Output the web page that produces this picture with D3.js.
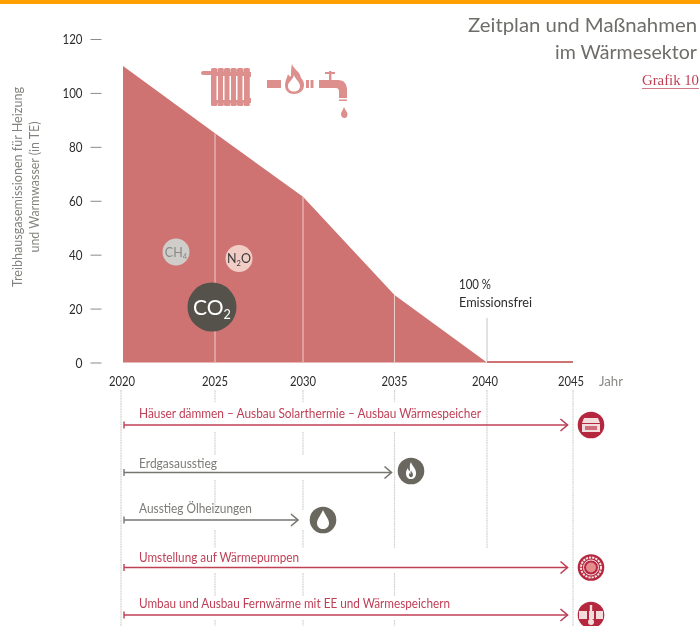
<!DOCTYPE html>
<html><head><meta charset="utf-8">
<script src="https://cdn.jsdelivr.net/npm/d3@7"></script>
<style>html,body{margin:0;padding:0;background:#fff}svg{display:block;filter:blur(.35px)}text{font-family:Lato,"Noto Sans",sans-serif}</style>
</head><body><svg id="c" width="700" height="626"></svg>
<script>
const years=[2020,2025,2030,2035,2040,2045];
const emissions=[110,85,61.5,25,0,0];
const yTicks=[0,20,40,60,80,100,120];
const yAxisLines=["Treibhausgasemissionen für Heizung","und Warmwasser (in TE)"];
const titleLines=["Zeitplan und Maßnahmen","im Wärmesektor"];
const measureLabels=["Häuser dämmen – Ausbau Solarthermie – Ausbau Wärmespeicher","Erdgasausstieg","Ausstieg Ölheizungen","Umstellung auf Wärmepumpen","Umbau und Ausbau Fernwärme mit EE und Wärmespeichern"];
const measureEnds=[2045,2035,2030,2045,2045];
const measureKinds=["red","grey","grey","red","red"];
const measureIcons=["house","flame","drop","pump","grid"];

const RED="#bf3f55",GREY="#77756f",AREA="#ce7371",DARK="#55524b";
const svg=d3.select("#c");
const x=d3.scaleLinear().domain(years).range([123,215,303,394.5,487,573]);
const y=d3.scaleLinear().domain([0,120]).range([362.5,39]);
const row=d3.scalePoint().domain(d3.range(measureLabels.length)).range([425,615]);
// the reference face is condensed: fit each label to its measured width
const fit=(sel,w)=>sel.attr("textLength",w).attr("lengthAdjust","spacingAndGlyphs");

svg.append("rect").attr("width",700).attr("height",4).attr("fill","#ff9f00");

// title
const titleW=[229,142];
svg.selectAll(".t").data(titleLines).join("text")
 .attr("x",(d,i)=>697-titleW[i]).attr("y",(d,i)=>32+i*27)
 .attr("font-size",19.5).attr("fill","#6e6d69").text(d=>d)
 .attr("textLength",(d,i)=>titleW[i]).attr("lengthAdjust","spacingAndGlyphs");
svg.append("text").attr("x",642).attr("y",85).attr("font-size",14.5)
 .attr("fill",RED).style("font-family","'Liberation Serif',serif").text("Grafik 10").call(fit,57);
svg.append("line").attr("x1",642).attr("x2",699).attr("y1",88.5).attr("y2",88.5).attr("stroke",RED).attr("stroke-width",.7);

// y axis
const yAxis=d3.axisLeft(y).tickValues(yTicks).tickSize(11).tickPadding(8).tickFormat(d3.format("d"));
const ya=svg.append("g").attr("transform","translate(101.5,0)").call(yAxis);
ya.select(".domain").remove();
ya.selectAll("line").attr("stroke","#8d8c88");
ya.selectAll("text").attr("font-size",13.5).attr("fill","#2c2c2c").attr("dy",".34em")
 .attr("textLength",d=>d>=100?20:d>0?13.5:7).attr("lengthAdjust","spacingAndGlyphs");
const yW=[200,131];
svg.selectAll(".yl").data(yAxisLines).join("text")
 .attr("transform",(d,i)=>`translate(${22+i*17},187) rotate(-90)`)
 .attr("text-anchor","middle").attr("font-size",13).attr("fill","#83827e").text(d=>d)
 .attr("textLength",(d,i)=>yW[i]).attr("lengthAdjust","spacingAndGlyphs");

// area
const pts=years.map((d,i)=>({y:d,v:emissions[i]}));
svg.append("path").datum(pts).attr("fill",AREA)
 .attr("d",d3.area().x(d=>x(d.y)).y0(y(0)).y1(d=>y(d.v)));
svg.append("path").datum(pts.slice(4)).attr("stroke",AREA).attr("stroke-width",2).attr("fill","none")
 .attr("d",d3.line().x(d=>x(d.y)).y(d=>y(d.v)-.5));
// inner lines
svg.selectAll(".il").data(pts.slice(1,4)).join("line")
 .attr("x1",d=>x(d.y)).attr("x2",d=>x(d.y)).attr("y1",d=>y(d.v)).attr("y2",y(0))
 .attr("stroke","#eccfcb").attr("stroke-width",1);
svg.append("line").attr("x1",x(2040)).attr("x2",x(2040)).attr("y1",318).attr("y2",y(0)-1).attr("stroke","#c4c4c2");

// annotation
svg.append("text").attr("x",459).attr("y",289).attr("font-size",13).attr("fill","#2c2c2c").text("100 %").call(fit,32);
svg.append("text").attr("x",459).attr("y",307).attr("font-size",13).attr("fill","#2c2c2c").text("Emissionsfrei").call(fit,73);

// x labels
const xLabelShift={2020:-1,2045:-2,2040:-2};
svg.selectAll(".xl").data(years).join("text")
 .attr("x",d=>x(d)+(xLabelShift[d]||0)).attr("y",386).attr("text-anchor","middle")
 .attr("font-size",13.5).attr("fill","#2c2c2c").text(d=>d).call(fit,26);
svg.append("text").attr("x",599).attr("y",386).attr("font-size",12.5).attr("fill","#8b8a86").text("Jahr").call(fit,24);

// vertical guides below the axis
const guide=(xp,segs)=>segs.forEach(s=>svg.append("line").attr("x1",xp).attr("x2",xp).attr("y1",s[0]).attr("y2",s[1])
  .attr("stroke","#d4d4d2").attr("stroke-width",1.2).attr("stroke-dasharray","2 .6"));
guide(x(2020)-2,[[390,626]]);
guide(x(2025),[[390,402],[432,455],[480,510],[530,548],[573,596],[620,626]]);
guide(x(2030),[[390,402],[432,455],[480,510],[530,548],[573,596],[620,626]]);
guide(x(2035),[[390,402],[432,548],[573,596],[620,626]]);
guide(x(2040),[[390,548]]);
guide(x(2045),[[390,626]]);

// measures
const labelW=[342,78,113,160,311];
const labelLift=[7,5,7,6,7];
const ms=measureLabels.map((l,i)=>({l,i,end:measureEnds[i],k:measureKinds[i],ic:measureIcons[i]}));
const col=d=>d.k==="red"?RED:GREY;
const endX=d=>x(d.end)-(d.end===2045?5.5:d.end===2035?3:5);
const g=svg.selectAll(".m").data(ms).join("g");
g.append("text").attr("x",139).attr("y",d=>row(d.i)-labelLift[d.i]).attr("font-size",13).attr("fill",d=>d.k==="red"?RED:"#7c7b77").text(d=>d.l)
 .attr("textLength",d=>labelW[d.i]).attr("lengthAdjust","spacingAndGlyphs");
g.append("line").attr("x1",124).attr("x2",endX).attr("y1",d=>row(d.i)).attr("y2",d=>row(d.i)).attr("stroke",col).attr("stroke-width",1.6);
g.append("line").attr("x1",124).attr("x2",124).attr("y1",d=>row(d.i)-3.5).attr("y2",d=>row(d.i)+3.5).attr("stroke",col).attr("stroke-width",1.4);
g.append("path").attr("fill","none").attr("stroke",col).attr("stroke-width",1.6)
 .attr("d",d=>`M${endX(d)-7},${row(d.i)-6}L${endX(d)},${row(d.i)}L${endX(d)-7},${row(d.i)+6}`);

// icon badges
const flame="M0,-9C1,-5 5,-3 5,2C5,6 3,8 0,8C-3,8 -5,6 -5,2C-5,0 -4,-2 -3,-3C-3,-1 -2,0 -1,0C-1,-3 -2,-6 0,-9Z";
const drop="M0,-10C2,-5 6,-1 6,3C6,7 3,9 0,9C-3,9 -6,7 -6,3C-6,-1 -2,-5 0,-10Z";
const icon=g.append("g").attr("transform",d=>{
  const cx=d.end===2045?591:d.end===2035?411:323; return `translate(${cx},${row(d.i)-(d.ic==="flame"?1.5:0)})`;});
icon.append("circle").attr("r",13.3).attr("fill",d=>d.k==="red"?"#b5273f":"#6a675f");
icon.filter(d=>d.ic==="flame").append("path").attr("d",flame).attr("fill","#fff");
icon.filter(d=>d.ic==="flame").append("path").attr("d",flame).attr("fill","#6a675f").attr("transform","translate(0,3) scale(.4)");
icon.filter(d=>d.ic==="drop").append("path").attr("d",drop).attr("fill","#fff");
const house=icon.filter(d=>d.ic==="house");
house.append("path").attr("d","M-9,-2L-7,-7H7L9,-2Z").attr("fill","#f3dcdc");
house.append("rect").attr("x",-9).attr("y",-1).attr("width",18).attr("height",8).attr("fill","#f3dcdc");
house.append("rect").attr("x",-6).attr("y",1).attr("width",12).attr("height",4).attr("fill","#b5273f").attr("opacity",.6);
const pump=icon.filter(d=>d.ic==="pump");
pump.append("circle").attr("r",10).attr("fill","none").attr("stroke","#f5e3e3").attr("stroke-width",2).attr("stroke-dasharray","2.2 1");
pump.append("circle").attr("r",7.5).attr("fill","#b5273f").attr("stroke","#f5e3e3");
pump.append("circle").attr("r",5).attr("fill","#e58d8d");
const gr=icon.filter(d=>d.ic==="grid");
gr.append("rect").attr("x",-12).attr("y",-4).attr("width",24).attr("height",8).attr("fill","#f3dcdc");
gr.append("rect").attr("x",-4).attr("y",-4).attr("width",2).attr("height",8).attr("fill","#b5273f");
gr.append("rect").attr("x",3).attr("y",-4).attr("width",2).attr("height",8).attr("fill","#b5273f");
gr.append("rect").attr("x",-1.2).attr("y",-10).attr("width",2.4).attr("height",15).attr("fill","#f3dcdc");
gr.append("circle").attr("cy",7).attr("r",3).attr("fill","#f3dcdc");

// gas bubbles
const gases=[{c:[176,252],r:13.5,f:"#cfcdc9",tc:"#8a8985",b:"CH",s:"4",fs:12.5},{c:[239,258.5],r:13.5,f:"#f1cdc6",tc:"#3a3a38",b:"N",s:"2",e:"O",fs:12.5},{c:[212,307],r:24.5,f:DARK,tc:"#fff",b:"CO",s:"2",fs:21}];
gases.forEach(d=>{
 svg.append("circle").attr("cx",d.c[0]).attr("cy",d.c[1]).attr("r",d.r).attr("fill",d.f);
 const t=svg.append("text").attr("x",d.c[0]).attr("y",d.c[1]+d.fs*.36).attr("text-anchor","middle").attr("fill",d.tc).attr("font-size",d.fs);
 t.append("tspan").text(d.b);
 t.append("tspan").attr("font-size",d.fs*.6).attr("dy",d.fs*.2).text(d.s);
 if(d.e)t.append("tspan").attr("dy",-d.fs*.2).text(d.e);
});

// radiator & tap pictogram
const P="#dc8f8c";
const pic=svg.append("g").attr("fill",P);
pic.append("rect").attr("x",201).attr("y",71).attr("width",12).attr("height",4).attr("rx",2);
d3.range(6).forEach(i=>pic.append("rect").attr("x",211+i*6.5).attr("y",68).attr("width",6.3).attr("height",38).attr("rx",1.5));
pic.append("rect").attr("x",211).attr("y",72).attr("width",40).attr("height",5);
pic.append("rect").attr("x",211).attr("y",98).attr("width",40).attr("height",5);
d3.range(5).forEach(i=>svg.append("rect").attr("x",216.5+i*6.5).attr("y",76).attr("width",1.5).attr("height",24).attr("fill","#fff"));
pic.append("rect").attr("x",267).attr("y",80).attr("width",14).attr("height",8);
pic.append("path").attr("d","M292,64C294,70 300,71 301,78C303,80 304,82 304,85C304,91 299,94 294,94C289,94 285,91 285,85C285,81 287,78 288,74C289,76 290,77 291,76C291,72 291,68 292,64Z");
svg.append("path").attr("d","M294,75C295,79 300,82 300,86C300,90 297,91.5 294,91.5C291,91.5 288,90 288,86C288,82 293,80 294,75Z").attr("fill","#fff");
pic.append("path").attr("d","M294,90C291,88 290,85 292,83C293,85 294,85 295,83C297,85 297,88 294,90Z");
pic.append("rect").attr("x",306).attr("y",80).attr("width",3).attr("height",8);
pic.append("rect").attr("x",310.5).attr("y",80).attr("width",3).attr("height",8);
pic.append("path").attr("d","M319,80H338C344,80 347,84 347,90V98H339V92C339,89 338,88 336,88H319Z");
pic.append("rect").attr("x",339).attr("y",99.5).attr("width",8).attr("height",1.5);
pic.append("rect").attr("x",329).attr("y",71).attr("width",2.4).attr("height",10);
pic.append("rect").attr("x",325).attr("y",72).attr("width",10).attr("height",2);
pic.append("path").attr("d","M344,107C345,110 347.5,112 347.5,114C347.5,117 346,118 344.5,118C343,118 341,117 341,114C341,112 343,110 344,107Z");
</script></body></html>
